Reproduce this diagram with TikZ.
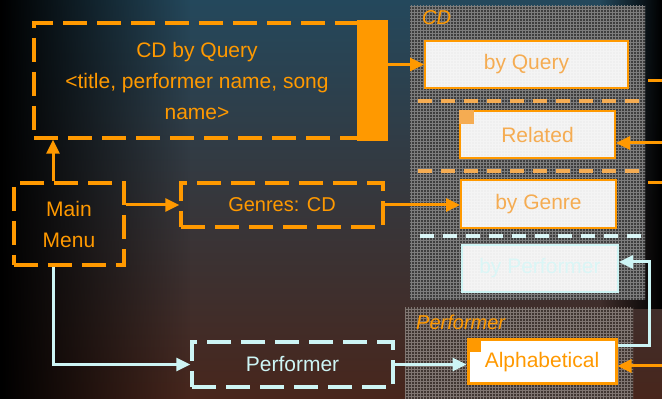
\documentclass[tikz,border=0pt]{standalone}
\usepackage{fontspec}
\setmainfont{Liberation Sans}
\usetikzlibrary{positioning,arrows.meta,patterns,fadings}

\definecolor{tangerine}{RGB}{255,153,0}
\definecolor{paleorange}{RGB}{245,172,82}
\definecolor{icecyan}{RGB}{205,245,245}
\definecolor{palecyan}{RGB}{218,246,246}
\definecolor{panelgray}{RGB}{62,62,62}
\definecolor{gridgray}{RGB}{125,125,125}
\definecolor{panelbrown}{RGB}{64,54,50}
\definecolor{gridbrown}{RGB}{128,118,114}

\tikzfading[name=dimright, left color=transparent!0, right color=transparent!100]
\tikzfading[name=dimleft, left color=transparent!100, right color=transparent!0]

\begin{document}
\begin{tikzpicture}[x=1pt, y=1pt,
    menubox/.style={draw=tangerine, line width=3.5pt, dash pattern=on 24pt off 10pt,
        text=tangerine, align=center, inner sep=0pt, font=\fontsize{21}{31}\selectfont},
    coldbox/.style={menubox, draw=icecyan, text=icecyan},
    viewbox/.style={draw=tangerine, line width=2pt, fill=white, fill opacity=0.92,
        text opacity=1, text=paleorange, inner sep=0pt, font=\fontsize{21}{25}\selectfont},
    tag/.style={text=tangerine, anchor=west, inner sep=0pt, font=\fontsize{20}{24}\selectfont\itshape},
    link/.style={draw=tangerine, line width=3pt, -{Triangle[length=14pt,width=13pt]}},
    coldlink/.style={link, draw=icecyan},
    sepline/.style={line width=4pt, dash pattern=on 14pt off 9pt}
]
    % Background
    \shade[top color={rgb,255:red,36;green,72;blue,92}, middle color={rgb,255:red,26;green,40;blue,48},
        bottom color={rgb,255:red,72;green,38;blue,28}] (0,0) rectangle (662,399);
    \fill[black, path fading=dimright] (0,0) rectangle (190,399);
    \fill[black, path fading=dimleft] (600,90) rectangle (662,399);
    \useasboundingbox (0,0) rectangle (662,399);

    % Panels
    \fill[panelgray] (410,99) rectangle (645,393);
    \fill[pattern=grid, pattern color=gridgray] (410,99) rectangle (645,393);
    \fill[panelbrown] (405,0) rectangle (633,91);
    \fill[pattern=grid, pattern color=gridbrown] (405,0) rectangle (633,91);
    \node[tag] (cdtag) at (422, 381) {CD};
    \node[tag] (perftag) at (416, 77) {Performer};

    % Separators
    \draw[sepline, draw=paleorange] (418, 298) -- (641, 298);
    \draw[sepline, draw=paleorange] (418, 228) -- (641, 228);
    \draw[sepline, draw=palecyan] (420, 163) -- (641, 163);

    % Nodes
    \node[menubox, minimum width=326, minimum height=115] (query) at (197, 318.5)
        {CD by Query\\<title, performer name, song\\name>};
    \node[fill=tangerine, minimum width=31, minimum height=121, inner sep=0pt] (bar) at (372.5, 318.5) {};
    \node[menubox, minimum width=110, minimum height=82] (menu) at (69, 175) {Main\\Menu};
    \node[menubox, minimum width=202, minimum height=44, font=\fontsize{20}{24}\selectfont] (genres) at (282, 194) {Genres: CD};
    \node[coldbox, minimum width=201, minimum height=45] (perf) at (292.5, 34.5) {Performer};

    \node[viewbox, minimum width=203, minimum height=47] (byquery) at (526.5, 334.5) {by Query};
    \node[viewbox, minimum width=155, minimum height=47] (related) at (537.5, 264.5) {Related};
    \node[viewbox, minimum width=155, minimum height=48] (bygenre) at (538.5, 195) {by Genre};
    \node[viewbox, draw=icecyan, text=palecyan, minimum width=156, minimum height=47] (byperf) at (540, 130.5) {by Performer};
    \node[viewbox, line width=3pt, fill opacity=1, text=tangerine, minimum width=148, minimum height=44] (alpha) at (542, 37) {Alphabetical};

    \fill[paleorange] (related.north west) rectangle ++(15, -14);
    \fill[tangerine] (alpha.north west) rectangle ++(14, -14);

    % Loose ends at the right edge
    \coordinate (qexit) at (648, 318);
    \coordinate (qedge) at (662, 318);
    \coordinate (gexit) at (648, 216);
    \coordinate (gedge) at (662, 216);
    \coordinate (relin) at (662, 256);
    \coordinate (alphain) at (662, 33);

    % Edges
    \draw[link] (bar.east |- byquery.west) -- (byquery.west);
    \draw[link] ([xshift=-16pt]menu.north) -- ([xshift=-16pt]menu.north |- query.south);
    \draw[link] (menu.east |- genres.west) -- (genres.west);
    \draw[link] (genres.east) -- (genres.east -| bygenre.west);
    \draw[coldlink] ([xshift=-16pt]menu.south) |- (perf.west);
    \draw[coldlink] (perf.east) -- (perf.east -| alpha.west);
    \draw[coldlink] ([yshift=16pt]alpha.east) -- ++(32, 0) |- ([yshift=6.5pt]byperf.east);
    \draw[link] (relin) -- (relin -| related.east);
    \draw[link] (alphain) -- (alphain -| alpha.east);
    \draw[tangerine, line width=3pt] (qexit) -- (qedge);
    \draw[tangerine, line width=3pt] (gexit) -- (gedge);
\end{tikzpicture}
\end{document}
